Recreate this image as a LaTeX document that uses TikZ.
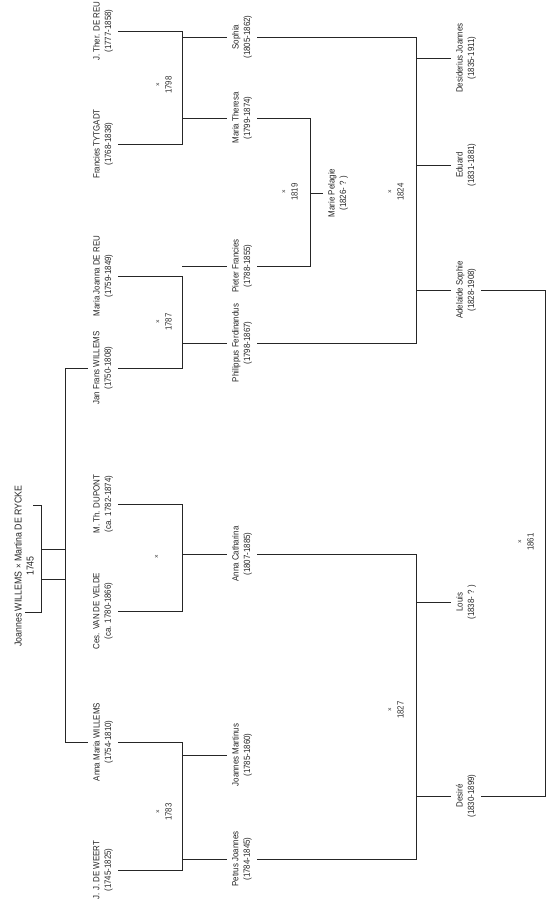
\documentclass[tikz,border=0pt]{standalone}
\usepackage{fontspec}
\setmainfont[FakeStretch=0.88]{Liberation Sans}
\begin{document}
\begin{tikzpicture}[x=1pt,y=-1pt,
  person/.style={rotate=90, align=center, inner sep=5pt, text=black!85,
    font=\fontsize{9}{11.5}\selectfont},
  wed/.style={rotate=90, align=center, inner sep=1pt, text=black!80,
    font=\fontsize{9}{11.5}\selectfont},
  ln/.style={draw=black!85, line width=0.9pt}]
\fill[white] (0,0) rectangle (550,907);
\useasboundingbox (0,0) rectangle (550,907);

% column coordinates
\coordinate (c41) at (41,0);
\coordinate (c65) at (65,0);
\coordinate (c182) at (182,0);
\coordinate (c310) at (310,0);
\coordinate (c416) at (416,0);
\coordinate (c545) at (545,0);

% founders
\node[person, font=\fontsize{10}{12}\selectfont] (fo) at (24,566) {Joannes WILLEMS {\small×} Martina DE RYCKE\\1745};
\coordinate (fa) at (33,505);
\coordinate (fb) at (25,612);
\coordinate (fc1) at (41,549);
\coordinate (fc2) at (41,579);

% generation 1
\node[person] (jther) at (103,31)  {J. Ther. DE REU\\(1777-1858)};
\node[person] (tyt)   at (103,144) {Francies TYTGADT\\(1768-1838)};
\node[person] (mjdr)  at (103,276) {Maria Joanna DE REU\\(1759-1849)};
\node[person] (jfw)   at (103,368) {Jan Frans WILLEMS\\(1750-1808)};
\node[person] (mtd)   at (103,504) {M. Th. DUPONT\\(ca. 1782-1874)};
\node[person] (cvdv)  at (103,611) {Ces. VAN DE VELDE\\(ca. 1780-1866)};
\node[person] (amw)   at (103,742) {Anna Maria WILLEMS\\(1754-1810)};
\node[person] (jjdw)  at (103,870) {J. J. DE WEERT\\(1745-1825)};

% generation 2
\node[person] (sophia) at (242,37)  {Sophia\\(1805-1862)};
\node[person] (mth)    at (242,118) {Maria Theresa\\(1799-1874)};
\node[person] (pf)     at (242,266) {Pieter Francies\\(1788-1855)};
\node[person] (phf)    at (242,343) {Philippus Ferdinandus\\(1798-1867)};
\node[person] (ac)     at (242,554) {Anna Catharina\\(1807-1885)};
\node[person] (jm)     at (242,755) {Joannes Martinus\\(1785-1860)};
\node[person] (pj)     at (242,859) {Petrus Joannes\\(1784-1845)};
\node[person] (mp)     at (338,193) {Marie Pelagie\\(1826- ? )};

% generation 3
\node[person] (dj) at (466,58)  {Desiderius Joannes\\(1835-1911)};
\node[person] (ed) at (466,165) {Eduard\\(1831-1881)};
\node[person] (as) at (466,290) {Adelaide Sophie\\(1828-1908)};
\node[person] (lo) at (466,602) {Louis\\(1838- ? )};
\node[person] (de) at (466,796) {Desiré\\(1830-1899)};

% marriages
\node[wed] (m1) at (164,85)  {{\scriptsize×}\\1798};
\node[wed] (m2) at (164,322) {{\scriptsize×}\\1787};
\node[wed] (m3) at (157,557) {{\scriptsize×}};
\node[wed] (m4) at (164,812) {{\scriptsize×}\\1783};
\node[wed] (m5) at (290,192) {{\scriptsize×}\\1819};
\node[wed] (m6) at (396,192) {{\scriptsize×}\\1824};
\node[wed] (m7) at (396,710) {{\scriptsize×}\\1827};
\node[wed] (m8) at (526,542) {{\scriptsize×}\\1861};

% founder bracket
\draw[ln] (fa) -- (fa -| c41) -- (fb -| c41) -- (fb);
\draw[ln] (fc1) -- (fc1 -| c65);
\draw[ln] (fc2) -- (fc2 -| c65);
\draw[ln] (jfw.north -| c65) -- (amw.north -| c65);
\draw[ln] (jfw.north -| c65) -- (jfw.north);
\draw[ln] (amw.north -| c65) -- (amw.north);

% generation 1 couples
\draw[ln] (jther.south) -- (jther.south -| c182) -- (tyt.south -| c182) -- (tyt.south);
\draw[ln] (mjdr.south) -- (mjdr.south -| c182) -- (jfw.south -| c182) -- (jfw.south);
\draw[ln] (mtd.south) -- (mtd.south -| c182) -- (cvdv.south -| c182) -- (cvdv.south);
\draw[ln] (amw.south) -- (amw.south -| c182) -- (jjdw.south -| c182) -- (jjdw.south);

% children of generation 1
\draw[ln] (sophia.north -| c182) -- (sophia.north);
\draw[ln] (mth.north -| c182) -- (mth.north);
\draw[ln] (pf.north -| c182) -- (pf.north);
\draw[ln] (phf.north -| c182) -- (phf.north);
\draw[ln] (ac.north -| c182) -- (ac.north);
\draw[ln] (jm.north -| c182) -- (jm.north);
\draw[ln] (pj.north -| c182) -- (pj.north);

% generation 2 couples
\draw[ln] (mth.south) -- (mth.south -| c310) -- (pf.south -| c310) -- (pf.south);
\draw[ln] (mp.north -| c310) -- (mp.north);
\draw[ln] (sophia.south) -- (sophia.south -| c416) -- (phf.south -| c416) -- (phf.south);
\draw[ln] (ac.south) -- (ac.south -| c416) -- (pj.south -| c416) -- (pj.south);

% children of generation 2
\draw[ln] (dj.north -| c416) -- (dj.north);
\draw[ln] (ed.north -| c416) -- (ed.north);
\draw[ln] (as.north -| c416) -- (as.north);
\draw[ln] (lo.north -| c416) -- (lo.north);
\draw[ln] (de.north -| c416) -- (de.north);

% generation 3 couple
\draw[ln] (as.south) -- (as.south -| c545) -- (de.south -| c545) -- (de.south);
\end{tikzpicture}
\end{document}
